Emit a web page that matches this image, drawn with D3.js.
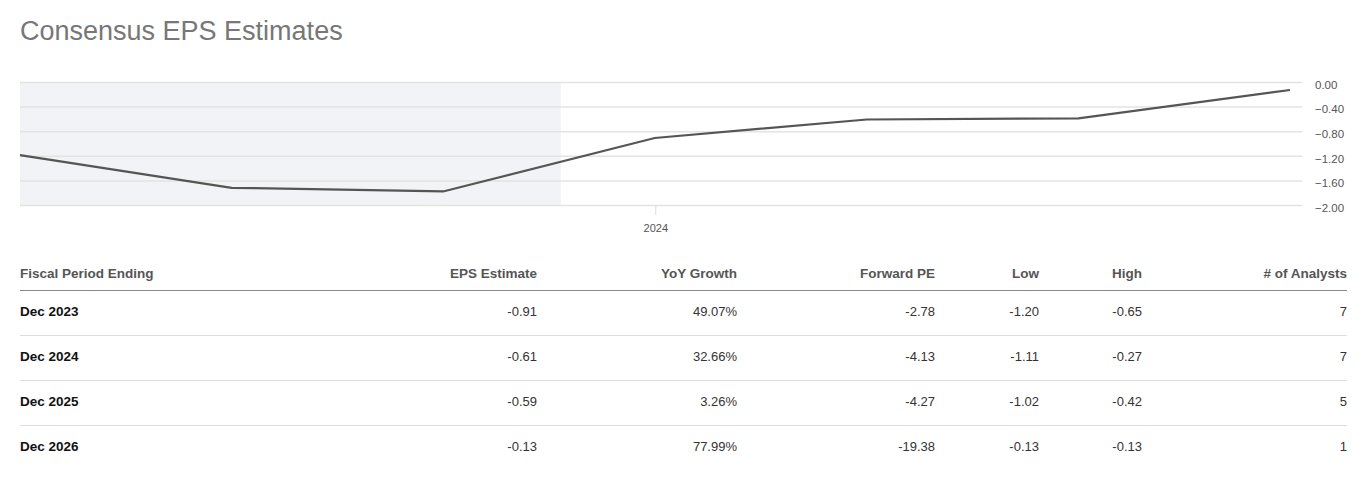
<!DOCTYPE html>
<html><head><meta charset="utf-8">
<script src="https://cdn.jsdelivr.net/npm/d3@7"></script>
<style>
body{margin:0;background:#fff;font-family:"Liberation Sans",Arial,sans-serif;}
</style></head>
<body><svg id="c" width="1363" height="483"></svg>
<script>
const title = "Consensus EPS Estimates";
const periods = ["2020-12-31","2021-12-31","2022-12-31","2023-12-31","2024-12-31","2025-12-31","2026-12-31"];
const epsLine = [-1.19,-1.72,-1.78,-0.91,-0.61,-0.59,-0.13];
const shadeEnd = "2023-07-22";
const yTicks = [0,-0.4,-0.8,-1.2,-1.6,-2.0];
const xTickDates = ["2024-01-01"];

const headers = ["Fiscal Period Ending","EPS Estimate","YoY Growth","Forward PE","Low","High","# of Analysts"];
const rowLabels = ["Dec 2023","Dec 2024","Dec 2025","Dec 2026"];
const epsEst = ["-0.91","-0.61","-0.59","-0.13"];
const yoy = ["49.07%","32.66%","3.26%","77.99%"];
const fwdPE = ["-2.78","-4.13","-4.27","-19.38"];
const lows = ["-1.20","-1.11","-1.02","-0.13"];
const highs = ["-0.65","-0.27","-0.42","-0.13"];
const analysts = ["7","7","5","1"];

(function(){
const svg = d3.select("#c");
const parse = d3.timeParse("%Y-%m-%d");
const dates = periods.map(parse);

svg.append("text").attr("x",20).attr("y",40).attr("font-size",27).attr("fill","#777").text(title);

const pL=20, pR=1302, pT=82, pB=205;
const x = d3.scaleTime().domain([dates[0], dates[dates.length-1]]).range([20,1290]);
const y = d3.scaleLinear().domain([-2,0]).range([pB,pT]);

svg.append("rect").attr("x",pL).attr("y",pT).attr("width",x(parse(shadeEnd))-pL).attr("height",pB-pT).attr("fill","#f2f3f6");

const yAxis = d3.axisRight(y).tickValues(yTicks).tickSize(pR-pL).tickFormat(d3.format(".2f"));
const gy = svg.append("g").attr("transform",`translate(${pL},0)`).call(yAxis);
gy.select(".domain").remove();
gy.selectAll(".tick line").attr("stroke","#e3e3e3").attr("stroke-width",1.5);
gy.selectAll(".tick text").attr("x",pR-pL+13).attr("dy","0.55em").attr("font-size",11.5).attr("fill","#555").attr("font-family","Liberation Sans, Arial");

const xAxis = d3.axisBottom(x).tickValues(xTickDates.map(parse)).tickSize(10).tickFormat(d3.timeFormat("%Y"));
const gx = svg.append("g").attr("transform",`translate(0,${pB})`).call(xAxis);
gx.select(".domain").remove();
gx.selectAll(".tick line").attr("stroke","#ddd");
gx.selectAll(".tick text").attr("y",19).attr("font-size",11).attr("fill","#555").attr("font-family","Liberation Sans, Arial");

const line = d3.line().x((d,i)=>x(dates[i])).y(d=>y(d));
svg.append("path").datum(epsLine).attr("d",line).attr("fill","none").attr("stroke","#555").attr("stroke-width",2.2);

const colRight = [null,537,737,935,1039,1142,1347];
const headY = 278, rowY0 = 316, rowH = 45;
headers.forEach((h,i)=>{
  svg.append("text").attr("x", i===0?20:colRight[i]).attr("y",headY)
    .attr("text-anchor", i===0?"start":"end").attr("font-size",13.5).attr("font-weight","bold").attr("fill","#555").text(h);
});
svg.append("line").attr("x1",20).attr("x2",1347).attr("y1",290.5).attr("y2",290.5).attr("stroke","#888").attr("stroke-width",1);
const cols = [epsEst,yoy,fwdPE,lows,highs,analysts];
rowLabels.forEach((r,j)=>{
  const yy = rowY0 + j*rowH;
  svg.append("text").attr("x",20).attr("y",yy).attr("font-size",13.5).attr("font-weight","bold").attr("fill","#111").text(r);
  cols.forEach((c,i)=>{
    svg.append("text").attr("x",colRight[i+1]).attr("y",yy).attr("text-anchor","end").attr("font-size",13).attr("fill","#333").text(c[j]);
  });
  if(j<rowLabels.length-1){
    svg.append("line").attr("x1",20).attr("x2",1347).attr("y1",yy+19.5).attr("y2",yy+19.5).attr("stroke","#ddd").attr("stroke-width",1);
  }
});
})();
</script></body></html>
